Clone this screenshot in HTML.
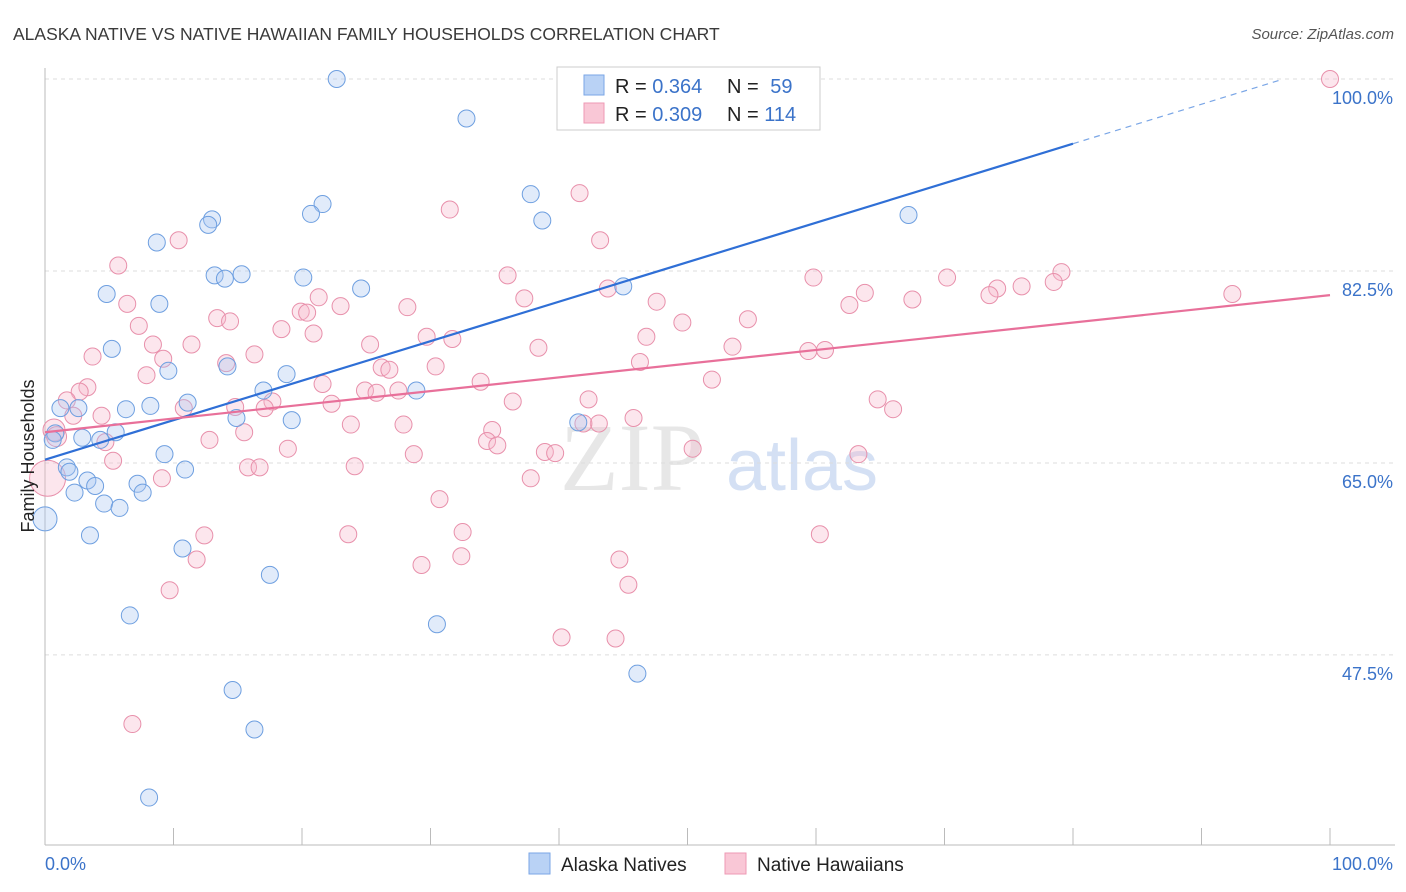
<!DOCTYPE html>
<html><head><meta charset="utf-8">
<style>
body{margin:0;background:#fff;}
svg{display:block;font-family:"Liberation Sans",sans-serif;}
</style></head>
<body>
<svg id="chart" width="1406" height="892" viewBox="0 0 1406 892">
<text x="13" y="40" font-size="17.5" fill="#3a3a3a">ALASKA NATIVE VS NATIVE HAWAIIAN FAMILY HOUSEHOLDS CORRELATION CHART</text>
<text x="1394" y="39" font-size="15" fill="#555" text-anchor="end" font-style="italic">Source: ZipAtlas.com</text>
<g>
<text x="632" y="490" font-size="96" fill="#d8d8d8" font-family="Liberation Serif,serif" text-anchor="middle" opacity="0.6">ZIP</text>
<text x="802" y="490" font-size="72" fill="#b9cdee" text-anchor="middle" opacity="0.6">atlas</text>
</g>
<g id="grid"></g>
<g id="axes"></g>
<g id="marks"></g>
<g id="trend"></g>
<g>
<rect x="557" y="67" width="263" height="63" fill="#fff" stroke="#ccc"/>
<rect x="584" y="75" width="20" height="20" fill="#b9d2f5" stroke="#7aa6e6"/>
<rect x="584" y="103" width="20" height="20" fill="#f9c7d6" stroke="#ee9ab4"/>
<text x="615" y="93" font-size="20" fill="#222">R = <tspan fill="#3b73c9">0.364</tspan></text>
<text x="727" y="93" font-size="20" fill="#222">N = <tspan fill="#3b73c9" dx="6">59</tspan></text>
<text x="615" y="121" font-size="20" fill="#222">R = <tspan fill="#3b73c9">0.309</tspan></text>
<text x="727" y="121" font-size="20" fill="#222">N = <tspan fill="#3b73c9">114</tspan></text>
</g>
<g>
<rect x="529" y="853" width="21" height="21" fill="#b9d2f5" stroke="#7aa6e6"/>
<text x="561" y="871" font-size="19" fill="#222">Alaska Natives</text>
<rect x="725" y="853" width="21" height="21" fill="#f9c7d6" stroke="#ee9ab4"/>
<text x="757" y="871" font-size="19" fill="#222">Native Hawaiians</text>
</g>
<text transform="translate(34,456) rotate(-90)" font-size="18" fill="#222" text-anchor="middle">Family Households</text>
</svg>
<script>
const yTicks=[100,82.5,65,47.5];
const yTickLabels=["100.0%","82.5%","65.0%","47.5%"];
const xTickLabels=["0.0%","100.0%"];
const blueX=[22.7,32.8,37.8,38.7,67.2,21.6,20.7,13.0,12.7,8.7,13.2,14.0,15.3,20.1,24.6,45.0,4.8,8.9,5.2,9.6,14.2,18.8,17.0,28.9,1.2,2.6,6.3,8.2,11.1,14.9,19.2,41.5,0.8,0.6,2.9,4.3,5.5,9.3,10.9,1.7,1.9,3.3,3.9,7.2,7.6,2.3,4.6,5.8,0,3.5,10.7,17.5,6.6,30.5,46.1,14.6,16.3,8.1];
const blueY=[100,96.4,89.5,87.1,87.6,88.6,87.7,87.2,86.7,85.1,82.1,81.8,82.2,81.9,80.9,81.1,80.4,79.5,75.4,73.4,73.8,73.1,71.6,71.6,70.0,70.0,69.9,70.2,70.5,69.1,68.9,68.7,67.7,67.1,67.3,67.1,67.8,65.8,64.4,64.6,64.2,63.4,62.9,63.1,62.3,62.3,61.3,60.9,59.9,58.4,57.2,54.8,51.1,50.3,45.8,44.3,40.7,34.5];
const blueR={48:12};
const pinkX=[100,41.6,31.5,43.2,10.4,5.7,36.0,59.8,70.2,79.1,78.5,76.0,74.1,73.5,63.8,62.6,67.5,92.4,43.8,37.3,47.6,6.4,28.2,21.3,23.0,19.9,20.4,13.4,14.4,7.3,18.4,20.9,49.6,54.7,46.8,29.7,31.7,25.3,8.4,11.4,38.4,53.5,59.4,60.7,3.7,9.2,16.3,14.1,46.3,30.4,26.2,26.8,7.9,51.9,33.9,21.6,3.3,2.7,24.9,25.8,27.5,42.3,64.8,36.4,17.7,1.7,22.3,66.0,14.8,17.1,10.8,4.4,2.2,45.8,43.1,41.9,27.9,23.8,34.8,15.5,0.7,0.9,12.8,4.7,34.4,35.2,18.9,28.7,38.9,39.7,50.4,63.3,5.3,15.8,16.7,24.1,0.2,9.1,37.8,30.7,32.5,23.6,60.3,12.4,32.4,11.8,29.3,44.7,45.4,9.7,40.2,44.4,6.8];
const pinkY=[100,89.6,88.1,85.3,85.3,83.0,82.1,81.9,81.9,82.4,81.5,81.1,80.9,80.3,80.5,79.4,79.9,80.4,80.9,80.0,79.7,79.5,79.2,80.1,79.3,78.8,78.7,78.2,77.9,77.5,77.2,76.8,77.8,78.1,76.5,76.5,76.3,75.8,75.8,75.8,75.5,75.6,75.2,75.3,74.7,74.5,74.9,74.1,74.2,73.8,73.7,73.5,73.0,72.6,72.4,72.2,71.9,71.5,71.6,71.4,71.6,70.8,70.8,70.6,70.6,70.7,70.4,69.9,70.1,70.0,70.0,69.3,69.3,69.1,68.6,68.6,68.5,68.5,68.0,67.8,68.0,67.4,67.1,66.9,67.0,66.6,66.3,65.8,66.0,65.9,66.3,65.8,65.2,64.6,64.6,64.7,63.6,63.6,63.6,61.7,58.7,58.5,58.5,58.4,56.5,56.2,55.7,56.2,53.9,53.4,49.1,49.0,41.2];
const pinkR={96:18,80:11,81:10};
const blueTrend=[65.3,94.1];
const pinkTrend=[67.8,80.3];

const NS="http://www.w3.org/2000/svg";
const X0=45,X1=1330,Y100=79,PXU=10.97;
function sx(v){return X0+(X1-X0)*v/100;}
function sy(v){return Y100+(100-v)*PXU;}
function mk(tag,attrs,parent){const e=document.createElementNS(NS,tag);for(const k in attrs)e.setAttribute(k,attrs[k]);parent.appendChild(e);return e;}
const grid=document.getElementById('grid'),axes=document.getElementById('axes'),marks=document.getElementById('marks'),trend=document.getElementById('trend');
yTicks.forEach((t,i)=>{
 const l=mk('line',{x1:X0,x2:1395,y1:sy(t),y2:sy(t),stroke:'#ddd','stroke-dasharray':'4,4'},grid);
 
 
 const tx=mk('text',{x:1393,y:sy(t)+25,'font-size':18,fill:'#3b73c9','text-anchor':'end'},axes);
 tx.textContent=yTickLabels[i];
 
 
});
const ya=mk('line',{x1:X0,x2:X0,y1:68,y2:845,stroke:'#bbb'},axes);


const xa=mk('line',{x1:X0,x2:1395,y1:845,y2:845,stroke:'#bbb'},axes);


for(let i=0;i<=10;i++){
 const t=mk('line',{x1:sx(i*10),x2:sx(i*10),y1:828,y2:845,stroke:'#bbb'},axes);
 
 
}
const xl0=mk('text',{x:45,y:870,'font-size':18,fill:'#3b73c9'},axes);
xl0.textContent=xTickLabels[0];


const xl1=mk('text',{x:1393,y:870,'font-size':18,fill:'#3b73c9','text-anchor':'end'},axes);
xl1.textContent=xTickLabels[1];


function pts(xs,ys,rs,fill,stroke,name){
 xs.forEach((x,i)=>{
  const c=mk('circle',{cx:sx(x),cy:sy(ys[i]),r:rs[i]||8.5,fill:fill,'fill-opacity':0.35,stroke:stroke,'stroke-width':1},marks);
  
  
 });
}
pts(pinkX,pinkY,pinkR,'#f6b6ca','#e890ab','hawaiian-point');
pts(blueX,blueY,blueR,'#a8c6f0','#6e9fe0','alaska-point');
const bl=mk('line',{x1:sx(0),y1:sy(blueTrend[0]),x2:sx(80),y2:sy(blueTrend[1]),stroke:'#2f6fd6','stroke-width':2.2},trend);


const slope=(blueTrend[1]-blueTrend[0])/80;
const bd=mk('line',{x1:sx(80),y1:sy(blueTrend[1]),x2:sx(96),y2:sy(blueTrend[1]+slope*16),stroke:'#7aa6e6','stroke-width':1.2,'stroke-dasharray':'6,5'},trend);


const pl=mk('line',{x1:sx(0),y1:sy(pinkTrend[0]),x2:sx(100),y2:sy(pinkTrend[1]),stroke:'#e8709a','stroke-width':2.2},trend);


</script>
</body></html>
